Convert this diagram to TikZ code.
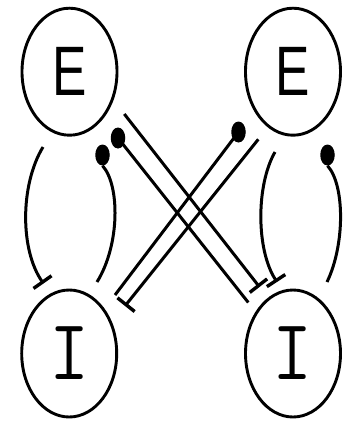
\documentclass[tikz,border=0pt]{standalone}
\usepackage{fontspec}
\usetikzlibrary{shapes.geometric,arrows.meta}
\newfontfamily\efont{Liberation Sans}
\tikzset{
  pop/.style={draw, ellipse, line width=2.9pt, minimum width=95pt, minimum height=127pt, inner sep=0pt},
  ball/.style={fill=black, ellipse, inner sep=0pt, minimum width=14.5pt, minimum height=21pt},
  link/.style={line width=3pt},
  inh/.style={line width=3pt, -{Bar[width=22pt,line width=3.4pt]}},
}
\newcommand{\Etext}{\scalebox{1.03}[1.40]{\efont\fontsize{50pt}{50pt}\selectfont E}}
\newcommand{\Itext}{\scalebox{1.3}[1.44]{\ttfamily\fontsize{60pt}{60pt}\selectfont I}}
\begin{document}
\begin{tikzpicture}[x=1pt,y=-1pt]
\useasboundingbox (0,0) rectangle (347,421);
% populations
\node[pop] (LE) at (69.5,71.7) {\Etext};
\node[pop] (RE) at (293,71.7) {\Etext};
\node[pop] (LI) at (69.2,353.5) {\Itext};
\node[pop] (RI) at (293,353.5) {\Itext};
% balls
\node[ball] (bL)  at (102.5,155) {};
\node[ball] (bLx) at (118,138) {};
\node[ball] (bRx) at (238.5,132) {};
\node[ball] (bR)  at (327.5,155) {};
% free ends
\coordinate (sLa) at (43,147);
\coordinate (eLa) at (43.5,283.5);
\coordinate (eLb) at (97,282);
\coordinate (sRa) at (275,152);
\coordinate (eRa) at (277,282);
\coordinate (eRb) at (327,282);
\coordinate (s1) at (124.3,114);
\coordinate (e1) at (259.5,287);
\coordinate (e2) at (248.3,302.5);
\coordinate (e3) at (115,295);
\coordinate (s4) at (258.3,139.3);
\coordinate (e4) at (125,306);
% self loops
\draw[inh] (sLa) .. controls (20,185) and (20,250) .. (eLa);
\draw[link] (bL.south) .. controls (120,185) and (120,245) .. (eLb);
\draw[inh] (sRa) .. controls (256,185) and (256,250) .. (eRa);
\draw[link] (bR.south) .. controls (345,185) and (345,245) .. (eRb);
% cross connections
\draw[inh] (s1) -- (e1);
\draw[link] (bLx.center) -- (e2);
\draw[link] (bRx.center) -- (e3);
\draw[inh] (s4) -- (e4);
\end{tikzpicture}
\end{document}
